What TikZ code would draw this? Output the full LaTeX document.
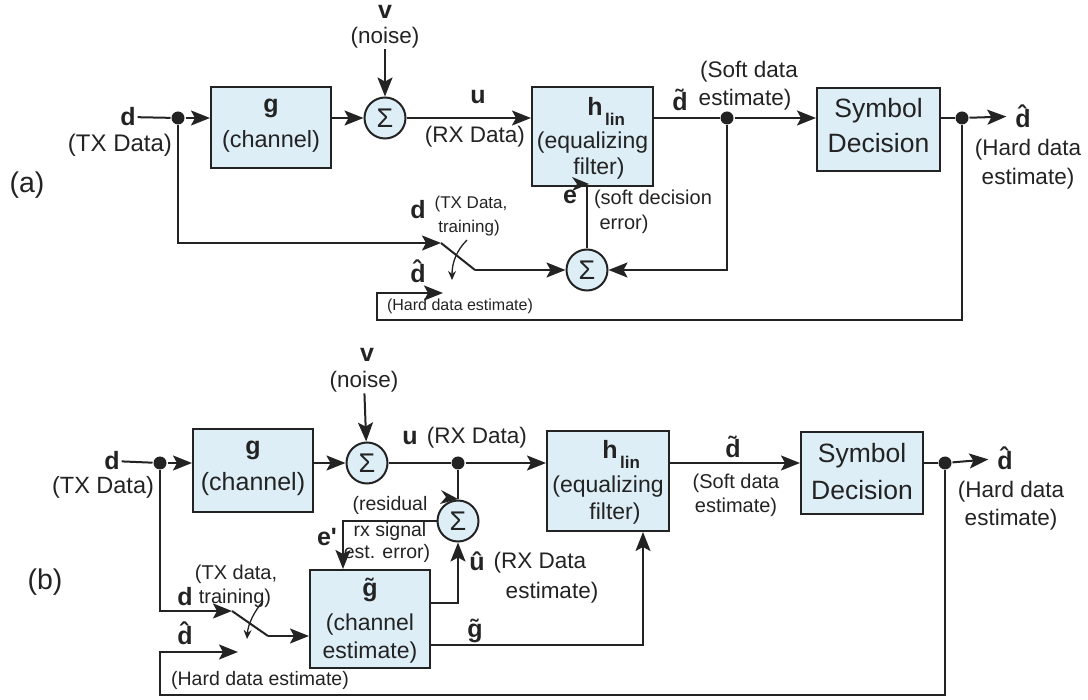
\documentclass[tikz,border=0pt]{standalone}
\usepackage{fontspec}
\setmainfont{Liberation Sans}
\usetikzlibrary{arrows.meta}
\definecolor{boxblue}{RGB}{221,238,247}
\definecolor{ln}{RGB}{35,35,35}
\newcommand\myfs[1]{\fontsize{#1pt}{#1pt}\selectfont}
\begin{document}
\begin{tikzpicture}[x=1pt,y=-1pt,line width=2pt,color=ln,
  blk/.style={draw=ln,fill=boxblue,line width=2pt,inner sep=0pt},
  sumc/.style={circle,draw=ln,fill=boxblue,line width=2pt,minimum size=41pt,inner sep=0pt,font=\myfs{27}},
  jdot/.style={circle,fill=ln,minimum size=13pt,inner sep=0pt},
  lbl/.style={inner sep=0pt,font=\myfs{22.5}},
  var/.style={inner sep=1pt,font=\myfs{25}\bfseries},
  sub/.style={inner sep=0pt,font=\myfs{17}\bfseries},
  arr/.style={-{Stealth[length=19pt,width=15pt,inset=4pt]}},
  smallarr/.style={-{Stealth[length=9pt,width=8pt]},line width=1.3pt}]
\useasboundingbox (0,0) rectangle (1088,700);

% ================= (a) =================
\node[lbl,font=\myfs{28.5}] (laba) at (27,185) {(a)};
\node[var] (da) at (128,117) {d};
\node[lbl,font=\myfs{24}] (txa) at (120,145) {(TX Data)};
\node[jdot] (d1a) at (178,118) {};
\node[blk,minimum width=120pt,minimum height=81pt] (ga) at (271,127.5) {};
\node[var] (gta) at (271,108) {g};
\node[lbl,font=\myfs{23.5}] (gla) at (271,141) {(channel)};
\node[sumc] (s1a) at (385,118) {Σ};
\node[var] (va) at (385,12) {v};
\node[lbl] (na) at (385,38) {(noise)};
\node[var] (ua) at (478,97) {u};
\node[lbl] (rxa) at (475,137) {(RX Data)};
\node[blk,minimum width=121pt,minimum height=99pt] (ha) at (592.5,136.5) {};
\node[var] (hha) at (595,106) {h};
\node[sub] (hla) at (615,119) {lin};
\node[lbl,font=\myfs{23}] (eqa) at (592.5,143) {(equalizing};
\node[lbl,font=\myfs{23}] (fia) at (599,169) {filter)};
\node[jdot] (d2a) at (727,118) {};
\node[var] (dta) at (680,100) {\~{d}};
\node[lbl] (sfa1) at (749,72) {(Soft data};
\node[lbl] (sfa2) at (745,100) {estimate)};
\node[blk,minimum width=123pt,minimum height=83pt] (sda) at (878.5,129.5) {};
\node[lbl,font=\myfs{26.5}] (sya) at (878.5,111) {Symbol};
\node[lbl,font=\myfs{26.5}] (dea) at (878.5,143) {Decision};
\node[jdot] (d3a) at (962,118) {};
\node[var,inner sep=8pt] (dha) at (1023,116) {\^{d}};
\node[lbl] (hda1) at (1028,150) {(Hard data};
\node[lbl] (hda2) at (1028,179) {estimate)};
\node[var] (dhfa) at (418,271) {\^{d}};
\node[lbl,font=\myfs{16}] (hdfa) at (460,306) {(Hard data estimate)};
\node[var] (dtra) at (418,210) {d};
\node[lbl,font=\myfs{17}] (tra1) at (471,204) {(TX Data,};
\node[lbl,font=\myfs{17}] (tra2) at (469,228) {training)};
\node[sumc] (s2a) at (587,270) {Σ};
\node[var] (ea) at (570,197) {e};
\node[lbl,font=\myfs{20}] (sde1) at (653,199) {(soft decision};
\node[lbl,font=\myfs{20}] (sde2) at (624,224) {error)};

\coordinate (fa1) at (377,320);
\coordinate (fa2) at (377,293);
\coordinate (fa3) at (443,293);
\coordinate (swa1) at (441,243);
\coordinate (swa2) at (475,270);

\draw (da) -- (d1a);
\draw[arr] (d1a) -- (d1a -| ga.west);
\draw[arr] (ga.east |- s1a) -- (s1a.west);
\draw[arr] (na) -- (s1a);
\draw[arr] (s1a) -- (s1a -| ha.west);
\draw (ha.east |- d2a) -- (d2a);
\draw[arr] (d2a) -- (d2a -| sda.west);
\draw (sda.east |- d3a) -- (d3a);
\draw[arr] (d3a) -- (dha);
\draw[arr] (d3a) |- (fa1) -- (fa2) -- (fa3);
\draw[arr] (d1a) |- (swa1);
\draw (swa1) -- (swa2);
\draw[arr] (swa2) -- (s2a.west);
\draw[arr] (d2a) |- (s2a.east);
\draw (s2a) -- (s2a |- ha.south);
\fill (589,184) -- (572,177) -- (577,184) -- (572,191) -- cycle;
\draw[smallarr] (467,240) .. controls (457,250) and (452,262) .. (452,280);

% ================= (b) =================
\node[lbl,font=\myfs{28.5}] (labb) at (45,582) {(b)};
\node[var] (db) at (112,461) {d};
\node[lbl,font=\myfs{23.5}] (txb) at (103,487) {(TX Data)};
\node[jdot] (d1b) at (160,463) {};
\node[blk,minimum width=120pt,minimum height=83pt] (gb) at (253,470.5) {};
\node[var] (gtxb) at (253,450) {g};
\node[lbl,font=\myfs{25}] (glb) at (253,484) {(channel)};
\node[sumc] (s1b) at (367,463) {Σ};
\node[var] (vb) at (367,355) {v};
\node[lbl] (nb) at (364,382) {(noise)};
\node[var] (ub) at (410,438) {u};
\node[lbl] (rxb) at (477,438) {(RX Data)};
\node[jdot] (d2b) at (458,463) {};
\node[blk,minimum width=122pt,minimum height=100pt] (hb) at (608,481) {};
\node[var] (hhb) at (610,449) {h};
\node[sub] (hlb) at (630,462) {lin};
\node[lbl,font=\myfs{23}] (eqb) at (608,487) {(equalizing};
\node[lbl,font=\myfs{23}] (fib) at (615,514) {filter)};
\node[var] (dtb) at (733,447) {\~{d}};
\node[lbl,font=\myfs{20}] (sfb1) at (736,483) {(Soft data};
\node[lbl,font=\myfs{20}] (sfb2) at (736,507) {estimate)};
\node[blk,minimum width=122pt,minimum height=82pt] (sdb) at (862,473) {};
\node[lbl,font=\myfs{26.5}] (syb) at (862,456) {Symbol};
\node[lbl,font=\myfs{26.5}] (deb) at (862,490) {Decision};
\node[jdot] (d3b) at (945,463) {};
\node[var,inner sep=8pt] (dhb) at (1005,458) {\^{d}};
\node[lbl] (hdb1) at (1011,492) {(Hard data};
\node[lbl] (hdb2) at (1011,520) {estimate)};
\node[sumc] (s3b) at (458,521) {Σ};
\node[blk,minimum width=120pt,minimum height=98pt] (gtb) at (370,619) {};
\node[var] (gttb) at (370,590) {\~{g}};
\node[lbl,font=\myfs{23}] (ceb1) at (370,625) {(channel};
\node[lbl,font=\myfs{23}] (ceb2) at (370,653) {estimate)};
\node[var] (uhb) at (477,561) {\^{u}};
\node[lbl] (rxeb1) at (540,563) {(RX Data};
\node[lbl] (rxeb2) at (552,593) {estimate)};
\node[var] (gtlb) at (475,631) {\~{g}};
\node[var] (epb) at (327,537) {e\textquotesingle};
\node[lbl,font=\myfs{19.5}] (rsb1) at (390,505) {(residual};
\node[lbl,font=\myfs{19.5}] (rsb2) at (390,531) {rx signal};
\node[lbl,font=\myfs{19.5}] (rsb3) at (387,553) {est. error)};
\node[var] (dhfb) at (185,633) {\^{d}};
\node[lbl,font=\myfs{19.5}] (hdfb) at (260,680) {(Hard data estimate)};
\node[var] (dtrb) at (185,597) {d};
\node[lbl,font=\myfs{20}] (trb1) at (236,574) {(TX data,};
\node[lbl,font=\myfs{20}] (trb2) at (235,598) {training)};

\coordinate (fb1) at (160,695);
\coordinate (fb2) at (160,652);
\coordinate (fb3) at (238,652);
\coordinate (swb1) at (232,611);
\coordinate (swb2) at (268,636);
\coordinate (eb1) at (343,521);
\coordinate (ub1) at (458,603);
\coordinate (gb1) at (643,645);

\draw (db) -- (d1b);
\draw[arr] (d1b) -- (d1b -| gb.west);
\draw[arr] (gb.east |- s1b) -- (s1b.west);
\draw[arr] (nb) -- (s1b);
\draw (s1b) -- (d2b);
\draw[arr] (d2b) -- (d2b -| hb.west);
\draw[arr] (hb.east |- d2b) -- (d2b -| sdb.west);
\draw (sdb.east |- d3b) -- (d3b);
\draw[arr] (d3b) -- (dhb);
\draw[arr] (d3b) |- (fb1) -- (fb2) -- (fb3);
\draw[arr] (d1b) |- (swb1);
\draw (swb1) -- (swb2);
\draw[arr] (swb2) -- (swb2 -| gtb.west);
\draw[smallarr] (263,601) .. controls (254,612) and (248,624) .. (247,639);
\draw (d2b) -- (s3b);
\fill (458,499) -- (441,490) -- (446,497) -- (440,504) -- cycle;
\draw[arr] (s3b.west) -- (eb1) -- (eb1 |- gtb.north);
\draw[arr] (gtb.east |- ub1) -- (ub1) -- (s3b.south);
\draw[arr] (gtb.east |- gb1) -- (gb1) -- (gb1 |- hb.south);
\end{tikzpicture}
\end{document}
